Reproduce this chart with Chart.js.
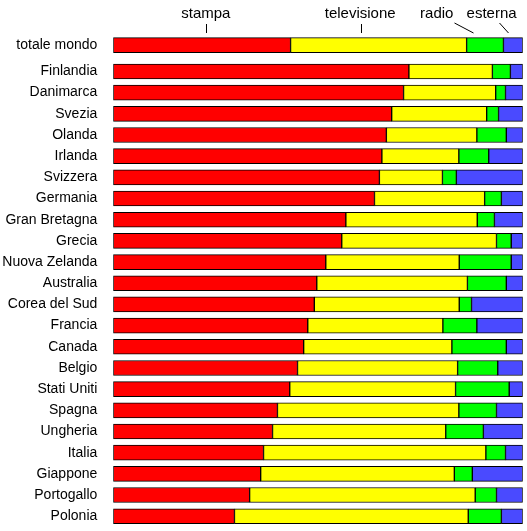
<!DOCTYPE html>
<html lang="it">
<head>
    <meta charset="UTF-8">
    <title>Ripartizione investimenti pubblicitari</title>
    <script src="https://cdn.jsdelivr.net/npm/chart.js"></script>
    <style>
        html, body {
            margin: 0;
            padding: 0;
            background-color: white;
        }

        #chartBox {
            width: 527px;
            height: 531px;
        }
    </style>
</head>
<body>

    <div id="chartBox">
        <canvas id="mediaChart"></canvas>
    </div>

    <script>
        // Paesi (il primo è il totale, staccato un po' dagli altri)
        const paesi = ['totale mondo', 'Finlandia', 'Danimarca', 'Svezia', 'Olanda', 'Irlanda',
            'Svizzera', 'Germania', 'Gran Bretagna', 'Grecia', 'Nuova Zelanda', 'Australia',
            'Corea del Sud', 'Francia', 'Canada', 'Belgio', 'Stati Uniti', 'Spagna',
            'Ungheria', 'Italia', 'Giappone', 'Portogallo', 'Polonia'];

        // posizione di ogni riga sull'asse y (il totale ha uno spazio in più)
        const righe = [-1.24, 0, 1, 2, 3, 4, 5, 6, 7, 8, 9, 10, 11, 12, 13, 14, 15, 16, 17, 18, 19, 20, 21];

        // quote percentuali
        const stampa = [43.3, 72.2, 70.9, 68.0, 66.7, 65.6, 65.0, 63.8, 56.8, 55.8, 51.9, 49.7,
            49.1, 47.5, 46.5, 45.0, 43.1, 40.1, 38.9, 36.7, 36.0, 33.3, 29.6];
        const televisione = [43.0, 20.4, 22.5, 23.2, 22.1, 18.8, 15.4, 26.9, 32.1, 37.8, 32.6, 36.8,
            35.4, 33.0, 36.2, 39.1, 40.5, 44.3, 42.3, 54.3, 47.3, 55.1, 57.1];
        const radio = [9.0, 4.4, 2.4, 2.9, 7.2, 7.3, 3.4, 4.1, 4.2, 3.6, 12.7, 9.5,
            3.0, 8.3, 13.3, 9.8, 13.1, 9.2, 9.2, 4.8, 4.4, 5.2, 8.1];
        const esterna = [4.7, 3.0, 4.2, 5.9, 4.0, 8.3, 16.2, 5.2, 6.9, 2.8, 2.8, 4.0,
            12.5, 11.2, 4.0, 6.1, 3.3, 6.4, 9.6, 4.2, 12.3, 6.4, 5.2];

        // etichette in alto: testo (x in %) e trattino (da x1 a x2 in %)
        const intestazioni = [
            { testo: 'stampa', x: 22.6, x1: 22.7, x2: 22.7 },
            { testo: 'televisione', x: 60.3, x1: 60.4, x2: 60.4 },
            { testo: 'radio', x: 79.0, x1: 83.2, x2: 87.8 },
            { testo: 'esterna', x: 92.4, x1: 94.1, x2: 96.3 }
        ];

        function serie(valori) {
            return valori.map((v, i) => ({ x: v, y: righe[i] }));
        }

        const intestazioniPlugin = {
            id: 'intestazioni',
            afterDraw(chart) {
                const ctx = chart.ctx;
                const xs = chart.scales.x;
                ctx.save();
                ctx.font = '15px "Liberation Sans", Arial, sans-serif';
                ctx.fillStyle = 'black';
                ctx.strokeStyle = 'black';
                ctx.lineWidth = 1;
                ctx.textAlign = 'center';
                ctx.textBaseline = 'alphabetic';
                intestazioni.forEach(h => {
                    ctx.fillText(h.testo, xs.getPixelForValue(h.x), 18);
                    const a = Math.round(xs.getPixelForValue(h.x1)) + 0.5;
                    const b = Math.round(xs.getPixelForValue(h.x2)) + 0.5;
                    ctx.beginPath();
                    ctx.moveTo(a, a === b ? 24 : 23);
                    ctx.lineTo(b, 33);
                    ctx.stroke();
                });
                ctx.restore();
            }
        };

        const comune = {
            borderColor: 'black',
            borderWidth: 1,
            borderSkipped: false,
            barThickness: 15
        };

        const ctx = document.getElementById('mediaChart').getContext('2d');

        new Chart(ctx, {
            type: 'bar',
            data: {
                datasets: [
                    { ...comune, label: 'stampa', data: serie(stampa), backgroundColor: '#ff0000' },
                    { ...comune, label: 'televisione', data: serie(televisione), backgroundColor: '#ffff00' },
                    { ...comune, label: 'radio', data: serie(radio), backgroundColor: '#00ff00' },
                    { ...comune, label: 'esterna', data: serie(esterna), backgroundColor: '#4a4aff' }
                ]
            },
            options: {
                indexAxis: 'y',
                responsive: true,
                maintainAspectRatio: false,
                animation: false,
                layout: {
                    padding: { top: 29.1, bottom: 4.2, left: 0, right: 4.3 }
                },
                plugins: {
                    legend: { display: false },
                    tooltip: { enabled: false }
                },
                scales: {
                    x: {
                        stacked: true,
                        min: 0,
                        max: 100,
                        display: false
                    },
                    y: {
                        type: 'linear',
                        stacked: true,
                        reverse: true,
                        offset: false,
                        min: -2,
                        max: 21.5,
                        border: { display: false },
                        grid: { display: false, drawTicks: false, offset: false },
                        afterBuildTicks: (axis) => {
                            axis.ticks = righe.map(v => ({ value: v }));
                        },
                        afterFit: (axis) => {
                            axis.width = 113.3;
                            axis.paddingTop = 0;
                            axis.paddingBottom = 0;
                        },
                        ticks: {
                            autoSkip: false,
                            padding: 16,
                            color: 'black',
                            font: { family: '"Liberation Sans", Arial, sans-serif', size: 14 },
                            callback: (value, index) => paesi[index]
                        }
                    }
                }
            },
            plugins: [intestazioniPlugin]
        });
    </script>

</body>
</html>
